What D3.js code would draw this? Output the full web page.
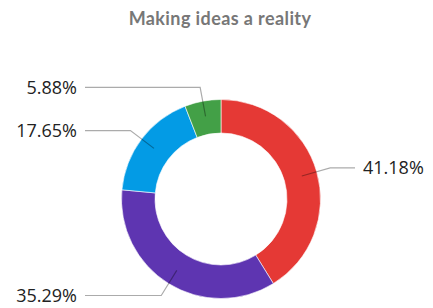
<!DOCTYPE html>
<html>
<head>
<meta charset="utf-8">
<script src="https://cdn.jsdelivr.net/npm/d3@7"></script>
<style>
  body { margin: 0; background: #fff; }
  svg { display: block; }
</style>
</head>
<body>
<div id="chart"></div>
<script>
// slice data, clockwise from 12 o'clock
var categories = ["Idea A", "Idea B", "Idea C", "Idea D"];
var values = [7, 6, 3, 1];
var colors = ["#E53935", "#5E35B1", "#039BE5", "#43A047"];
var title = "Making ideas a reality";

var width = 433, height = 308;
var cx = 221, cy = 199;
var outerR = 99.5, innerR = 66;

var svg = d3.select("#chart").append("svg")
    .attr("width", width)
    .attr("height", height);

svg.append("text")
    .attr("x", 220)
    .attr("y", 25)
    .attr("text-anchor", "middle")
    .attr("font-family", "Lato, 'Open Sans', sans-serif")
    .attr("font-weight", "bold")
    .attr("font-size", 18)
    .attr("letter-spacing", 0.4)
    .attr("fill", "#777")
    .text(title);

var total = d3.sum(values);
var data = categories.map(function(c, i) { return {name: c, value: values[i]}; });

var pie = d3.pie().sort(null).value(function(d) { return d.value; });
var arcs = pie(data);

var arc = d3.arc().innerRadius(innerR).outerRadius(outerR);
var inPt = d3.arc().innerRadius(84).outerRadius(84);
var elbowPt = d3.arc().innerRadius(113.5).outerRadius(113.5);

var g = svg.append("g").attr("transform", "translate(" + cx + "," + cy + ")");

g.selectAll("path.slice")
    .data(arcs)
    .enter()
    .append("path")
    .attr("class", "slice")
    .attr("d", arc)
    .attr("fill", function(d, i) { return colors[i]; })
    .attr("stroke", "#fff")
    .attr("stroke-width", 0.6);

// leader lines
g.selectAll("polyline")
    .data(arcs)
    .enter()
    .append("polyline")
    .attr("points", function(d) {
        var a = inPt.centroid(d), b = elbowPt.centroid(d);
        var right = (d.startAngle + d.endAngle) / 2 < Math.PI;
        var endX = right ? 134 : -136;
        return [a, b, [endX, b[1]]].map(function(p) { return p.join(","); }).join(" ");
    })
    .attr("fill", "none")
    .attr("stroke", "#000")
    .attr("stroke-opacity", 0.33)
    .attr("stroke-width", 1.2);

g.selectAll("text.lbl")
    .data(arcs)
    .enter()
    .append("text")
    .attr("class", "lbl")
    .attr("x", function(d) {
        var right = (d.startAngle + d.endAngle) / 2 < Math.PI;
        return right ? 142 : -144;
    })
    .attr("y", function(d) { return elbowPt.centroid(d)[1]; })
    .attr("dy", "0.35em")
    .attr("text-anchor", function(d) {
        return (d.startAngle + d.endAngle) / 2 < Math.PI ? "start" : "end";
    })
    .attr("font-family", "'Open Sans', sans-serif")
    .attr("font-size", 18)
    .attr("fill", "#222")
    .text(function(d) { return (d.data.value / total * 100).toFixed(2) + "%"; });
</script>
</body>
</html>
